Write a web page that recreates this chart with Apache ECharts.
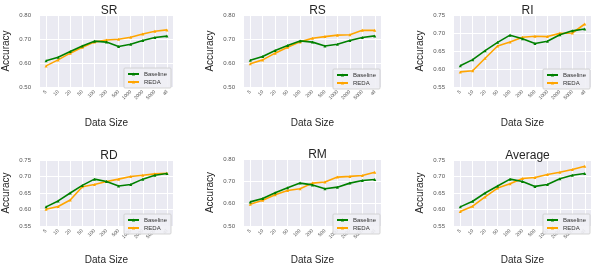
<!DOCTYPE html>
<html><head><meta charset="utf-8">
<script src="https://cdn.jsdelivr.net/npm/echarts@6/dist/echarts.min.js"></script>
<style>html,body{margin:0;padding:0;background:#fff}#c{width:592px;height:266px}</style>
</head><body><div id="c"></div>
<script>
const categories = ['5','10','20','50','100','200','500','1000','2000','5000','all'];
const panelNames = ['SR','RS','RI','RD','RM','Average'];
const baselineSR = [0.609,0.624,0.648,0.671,0.691,0.687,0.669,0.678,0.694,0.706,0.712];
const redaSR     = [0.588,0.613,0.641,0.666,0.687,0.696,0.699,0.707,0.721,0.732,0.738];
const baselineRS = [0.611,0.627,0.652,0.673,0.692,0.687,0.671,0.678,0.694,0.706,0.713];
const redaRS     = [0.597,0.613,0.641,0.666,0.688,0.703,0.710,0.716,0.718,0.736,0.736];
const baselineRI = [0.609,0.626,0.651,0.674,0.694,0.684,0.671,0.677,0.695,0.706,0.711];
const redaRI     = [0.592,0.595,0.630,0.664,0.675,0.688,0.691,0.690,0.699,0.700,0.725];
const baselineRD = [0.608,0.626,0.650,0.673,0.692,0.685,0.671,0.676,0.692,0.704,0.709];
const redaRD     = [0.601,0.609,0.629,0.669,0.676,0.685,0.692,0.700,0.704,0.708,0.710];
const baselineRM = [0.608,0.623,0.649,0.671,0.692,0.684,0.667,0.674,0.692,0.704,0.708];
const redaRM     = [0.597,0.615,0.640,0.659,0.667,0.692,0.697,0.719,0.722,0.726,0.741];
const baselineAvg= [0.608,0.625,0.650,0.671,0.692,0.685,0.670,0.676,0.693,0.704,0.709];
const redaAvg    = [0.594,0.610,0.638,0.665,0.678,0.694,0.697,0.706,0.713,0.721,0.731];
const yMin = [0.50,0.50,0.55,0.55,0.50,0.55];
const yMax = [0.80,0.80,0.75,0.75,0.80,0.75];
const yStep = [0.10,0.10,0.05,0.05,0.10,0.05];
const baselines = [baselineSR,baselineRS,baselineRI,baselineRD,baselineRM,baselineAvg];
const redas = [redaSR,redaRS,redaRI,redaRD,redaRM,redaAvg];

const grids = [
  {left:35, top:15, width:138, height:72},
  {left:244, top:15, width:137, height:72},
  {left:454, top:15, width:137, height:72},
  {left:35, top:160, width:138, height:72},
  {left:244, top:159, width:137, height:73},
  {left:454, top:160, width:137, height:72}
];
const legendPos = [
  {right:421, top:68},{right:212, top:69},{right:2, top:69},
  {right:421, top:214},{right:212, top:214},{right:2, top:214}
];
const FONT = '"Liberation Sans", Arial, sans-serif';
const GREEN = '#008000', ORANGE = '#FFA500';

const option = {animation:false, grid:[], xAxis:[], yAxis:[], series:[], title:[], legend:[]};
grids.forEach((g,i)=>{
  option.grid.push(Object.assign({show:true, backgroundColor:'#EAEAF2', borderWidth:0, containLabel:false}, g));
  option.title.push({text:panelNames[i], left:g.left+g.width/2, top:g.top-15, textAlign:'center',
    textStyle:{fontFamily:FONT, fontSize:12, fontWeight:'normal', color:'#262626'}});
  option.xAxis.push({type:'category', gridIndex:i, data:categories, boundaryGap:true,
    name:'Data Size', nameLocation:'middle', nameGap: i<3?31:29,
    nameTextStyle:{fontFamily:FONT, fontSize:10, color:'#262626'},
    axisLine:{show:false}, axisTick:{show:false, alignWithLabel:true},
    axisLabel:{rotate:45, fontSize:5, color:'#555', fontFamily:FONT, margin:4, interval:0},
    splitLine:{show:true, alignWithLabel:true, lineStyle:{color:'#ffffff', width:1}}});
  option.yAxis.push({type:'value', gridIndex:i, min:yMin[i], max:yMax[i], interval:yStep[i],
    name:'Accuracy', nameLocation:'middle', nameGap:29,
    nameTextStyle:{fontFamily:FONT, fontSize:10, color:'#262626'},
    axisLine:{show:false}, axisTick:{show:false},
    axisLabel:{fontSize:6, color:'#555', fontFamily:FONT, margin:9, formatter:v=>v.toFixed(2)},
    splitLine:{show:true, lineStyle:{color:'#ffffff', width:1}}});
  option.series.push({name:'Baseline', type:'line', xAxisIndex:i, yAxisIndex:i, data:baselines[i],
    symbol:'triangle', symbolSize:3, lineStyle:{color:GREEN, width:1.6}, itemStyle:{color:GREEN}, z:3});
  option.series.push({name:'REDA', type:'line', xAxisIndex:i, yAxisIndex:i, data:redas[i],
    symbol:'triangle', symbolSize:3, lineStyle:{color:ORANGE, width:1.6}, itemStyle:{color:ORANGE}, z:2});
  option.legend.push(Object.assign({orient:'vertical', data:['Baseline','REDA'], itemWidth:11, itemHeight:4,
    itemGap:2, padding:[3,4,3,3], backgroundColor:'rgba(240,240,245,0.9)', borderColor:'#cccccc', borderWidth:0.8,
    borderRadius:1, textStyle:{fontSize:6, color:'#333', fontFamily:FONT}, selectedMode:false}, legendPos[i]));
});
const chart = echarts.init(document.getElementById('c'), null, {renderer:'canvas'});
chart.setOption(option);
</script></body></html>
